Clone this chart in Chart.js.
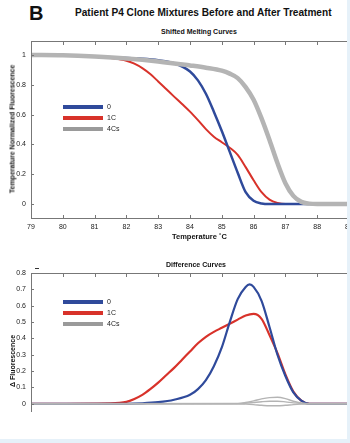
<!DOCTYPE html>
<html>
<head>
<meta charset="utf-8">
<script src="https://cdn.jsdelivr.net/npm/chart.js@4"></script>
<style>
  html, body { margin: 0; padding: 0; background: #fff; }
  body { width: 350px; height: 443px; position: relative; overflow: hidden; font-family: "Liberation Sans", Arial, sans-serif; color: #111; }
  .txt { position: absolute; white-space: nowrap; font-weight: bold; }
  .cv { position: absolute; left: 0; }
  .strip { position: absolute; background: #e6f1f9; }
</style>
</head>
<body>
<div class="txt" style="left:29px; top:2px; font-size:20px;">B</div>
<div class="txt" style="left:75px; top:7px; font-size:10.1px;">Patient P4 Clone Mixtures Before and After Treatment</div>
<div class="txt" style="left:161px; top:28px; font-size:7px;">Shifted Melting Curves</div>

<div class="cv" style="top:0; width:360px; height:250px;"><canvas id="meltChart"></canvas></div>
<div class="txt" style="left:172px; top:232px; font-size:7.5px;">Temperature ˚C</div>
<div class="txt" style="left:12px; top:129px; font-size:7px; transform:translate(-50%,-50%) rotate(-90deg);">Temperature Normalized Fluorescence</div>

<div class="txt" style="left:166px; top:261px; font-size:7px;">Difference Curves</div>
<div class="cv" style="top:250px; width:360px; height:193px;"><canvas id="diffChart"></canvas></div>
<div class="txt" style="left:12px; top:361px; font-size:7px; transform:translate(-50%,-50%) rotate(-90deg);">Δ Fluorescence</div>
<div style="position:absolute; left:35px; top:268px; width:4px; height:1px; background:#333;"></div>

<div class="strip" style="left:347px; top:0; width:3px; height:443px;"></div>
<div class="strip" style="left:0; top:439px; width:350px; height:4px;"></div>

<script>
// shared axes
const xTicks = [79, 80, 81, 82, 83, 84, 85, 86, 87, 88, 89];
const meltYTicks = [0, 0.2, 0.4, 0.6, 0.8, 1];
const diffYTicks = [0, 0.1, 0.2, 0.3, 0.4, 0.5, 0.6, 0.7, 0.8];
const seriesNames = ["0", "1C", "4Cs"];

// shifted melting curves
const meltTemp0 = [79, 80, 81, 82, 82.5, 83, 83.5, 84, 84.25, 84.5, 84.75, 85, 85.25, 85.5, 85.75, 86, 86.25, 86.5, 89];
const melt0 = [1, 0.998, 0.99, 0.98, 0.975, 0.965, 0.945, 0.89, 0.83, 0.74, 0.62, 0.49, 0.35, 0.21, 0.08, 0.022, 0.004, 0, 0];
const meltTemp1 = [79, 80, 81, 81.5, 82, 82.25, 82.5, 82.75, 83, 83.25, 83.5, 83.75, 84, 84.25, 84.5, 84.75, 85, 85.25, 85.5, 85.75, 86, 86.25, 86.5, 86.75, 87, 89];
const melt1 = [1, 0.998, 0.99, 0.98, 0.962, 0.942, 0.912, 0.872, 0.823, 0.772, 0.721, 0.671, 0.62, 0.563, 0.503, 0.452, 0.415, 0.378, 0.33, 0.248, 0.16, 0.08, 0.03, 0.008, 0, 0];
const meltTemp4 = [79, 80, 81, 82, 83, 84, 84.5, 85, 85.25, 85.5, 85.75, 86, 86.25, 86.5, 86.75, 87, 87.25, 87.5, 87.75, 88, 89];
const melt4 = [1, 0.998, 0.99, 0.977, 0.957, 0.93, 0.915, 0.895, 0.875, 0.845, 0.785, 0.7, 0.575, 0.43, 0.275, 0.14, 0.055, 0.015, 0.003, 0, 0];

// difference curves
const diffTemp0 = [79, 82, 82.5, 83, 83.5, 84, 84.25, 84.5, 84.75, 85, 85.25, 85.5, 85.75, 85.875, 86, 86.25, 86.5, 86.75, 87, 87.25, 87.5, 87.75, 89];
const diff0 = [0, 0, 0.003, 0.01, 0.025, 0.055, 0.09, 0.145, 0.23, 0.345, 0.5, 0.64, 0.715, 0.73, 0.715, 0.63, 0.47, 0.3, 0.17, 0.07, 0.02, 0, 0];
const diffTemp1 = [79, 81.5, 82, 82.25, 82.5, 82.75, 83, 83.25, 83.5, 83.75, 84, 84.25, 84.5, 84.75, 85, 85.25, 85.5, 85.75, 86, 86.25, 86.5, 86.75, 87, 87.25, 87.5, 87.75, 89];
const diff1 = [0, 0.003, 0.012, 0.03, 0.055, 0.09, 0.13, 0.175, 0.22, 0.27, 0.32, 0.37, 0.41, 0.44, 0.465, 0.49, 0.515, 0.54, 0.55, 0.52, 0.42, 0.31, 0.18, 0.075, 0.02, 0, 0];
const diffTemp4 = [79, 85.5, 85.75, 86, 86.25, 86.5, 86.75, 87, 87.25, 87.5, 87.75, 89];
const diff4a = [0, 0.002, 0.008, 0.018, 0.03, 0.038, 0.04, 0.032, 0.016, 0.005, 0, 0];
const diff4b = [0, 0, 0.003, 0.008, 0.013, 0.016, 0.016, 0.012, 0.006, 0.002, 0, 0];
const diff4c = [0, 0, -0.002, -0.005, -0.009, -0.012, -0.012, -0.009, -0.005, -0.002, 0, 0];

const BLUE = "#2f4a9b";
const RED = "#d8322a";
const GRAY = "#b4b4b4";
const legendColors = [BLUE, RED, "#9a9a9a"];
const FONT = { family: "'Liberation Sans', Arial, sans-serif", size: 7 };

const pts = (xs, ys) => xs.map((x, i) => ({ x: x, y: ys[i] }));

function line(label, xs, ys, color, width, order) {
  return {
    label: label,
    data: pts(xs, ys),
    borderColor: color,
    borderWidth: width,
    pointRadius: 0,
    fill: false,
    cubicInterpolationMode: "monotone",
    order: order,
  };
}

// matlab-ish box: inward ticks, top border, inline legend
const frame = {
  id: "frame",
  afterDraw(chart, args, opts) {
    const { ctx, chartArea: a } = chart;
    const x = chart.scales.x, y = chart.scales.y;
    ctx.save();
    ctx.strokeStyle = "#777";
    ctx.lineWidth = 1;
    ctx.beginPath();
    ctx.moveTo(a.left + 0.5, a.top);
    ctx.lineTo(a.left + 0.5, a.bottom);
    ctx.moveTo(a.left, a.top + 0.5);
    ctx.lineTo(a.right + 20, a.top + 0.5);
    if (opts.bottomAxis) {
      ctx.moveTo(a.left, a.bottom - 0.5);
      ctx.lineTo(a.right + 20, a.bottom - 0.5);
    }
    xTicks.forEach(v => {
      const px = Math.round(x.getPixelForValue(v)) + 0.5;
      ctx.moveTo(px, a.top);
      ctx.lineTo(px, a.top + 4);
      if (opts.bottomAxis) {
        ctx.moveTo(px, a.bottom);
        ctx.lineTo(px, a.bottom - 4);
      }
    });
    y.ticks.forEach(t => {
      const py = Math.round(y.getPixelForValue(t.value)) + 0.5;
      ctx.moveTo(a.left, py);
      ctx.lineTo(a.left + 3, py);
    });
    ctx.stroke();

    // legend
    ctx.lineWidth = 4;
    ctx.font = "7px 'Liberation Sans', Arial, sans-serif";
    ctx.fillStyle = "#222";
    ctx.textBaseline = "middle";
    seriesNames.forEach((name, i) => {
      const ly = opts.legendTop + i * 11;
      ctx.strokeStyle = legendColors[i];
      ctx.beginPath();
      ctx.moveTo(63, ly);
      ctx.lineTo(103, ly);
      ctx.stroke();
      ctx.fillText(name, 107, ly + 0.5);
    });
    ctx.restore();
  }
};

function axes(yMin, yMax, yTicks, showX) {
  return {
    x: {
      type: "linear",
      min: 79,
      max: 89,
      display: showX,
      afterBuildTicks: s => { s.ticks = xTicks.map(v => ({ value: v })); },
      afterFit: s => { s.height = 31; },
      grid: { display: false, drawTicks: false },
      border: { display: false },
      ticks: { font: FONT, color: "#222", padding: 4, maxRotation: 0, callback: v => String(v) },
    },
    y: {
      min: yMin,
      max: yMax,
      afterBuildTicks: s => { s.ticks = yTicks.map(v => ({ value: v })); },
      afterFit: s => { s.width = 31; },
      grid: { display: false, drawTicks: false },
      border: { display: false },
      ticks: { font: FONT, color: "#222", padding: 5, callback: v => String(v) },
    },
  };
}

const common = {
  responsive: true,
  maintainAspectRatio: false,
  animation: false,
  events: [],
  plugins: { legend: { display: false }, tooltip: { enabled: false } },
};

new Chart(document.getElementById("meltChart"), {
  type: "line",
  data: {
    datasets: [
      line("4Cs", meltTemp4, melt4, GRAY, 4.5, 0),
      line("0", meltTemp0, melt0, BLUE, 2.5, 1),
      line("1C", meltTemp1, melt1, RED, 2, 2),
    ],
  },
  options: Object.assign({}, common, {
    layout: { padding: { top: 41, right: 11, left: 0, bottom: 0 } },
    scales: axes(-0.1, 1.094, meltYTicks, true),
    plugins: Object.assign({}, common.plugins, { frame: { bottomAxis: true, legendTop: 107 } }),
  }),
  plugins: [frame],
});

new Chart(document.getElementById("diffChart"), {
  type: "line",
  data: {
    datasets: [
      line("4Cs", diffTemp4, diff4a, GRAY, 1.4, 0),
      line("4Cs", diffTemp4, diff4b, GRAY, 1.4, 0),
      line("4Cs", diffTemp4, diff4c, GRAY, 1.4, 0),
      line("0", diffTemp0, diff0, BLUE, 2.2, 1),
      line("1C", diffTemp1, diff1, RED, 2.2, 2),
    ],
  },
  options: Object.assign({}, common, {
    layout: { padding: { top: 23, right: 11, left: 0, bottom: 0 } },
    scales: axes(-0.05, 0.8, diffYTicks, false),
    plugins: Object.assign({}, common.plugins, { frame: { bottomAxis: false, legendTop: 302 - 250 } }),
  }),
  plugins: [frame],
});
</script>
</body>
</html>
